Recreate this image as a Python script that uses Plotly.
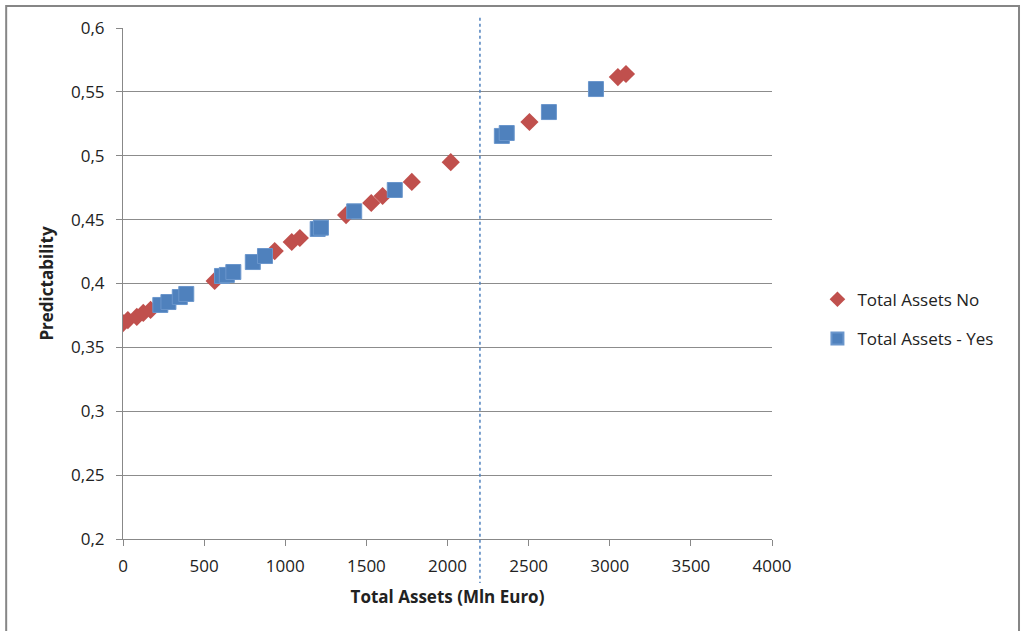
import plotly.graph_objects as go

# Total assets (Mln Euro) vs predictability, split by group
assets_no = [0, 30, 85, 125, 170, 565, 935, 1040, 1090, 1375, 1530, 1600, 1780, 2020, 2505, 3050, 3100]
pred_no = [0.369, 0.3714, 0.3738, 0.377, 0.3793, 0.402, 0.4254, 0.4325, 0.4356, 0.4536, 0.463, 0.4685, 0.4795, 0.495, 0.5264, 0.5616, 0.564]

assets_yes = [230, 280, 350, 390, 610, 640, 680, 800, 875, 1200, 1220, 1425, 1675, 2335, 2365, 2625, 2915]
pred_yes = [0.3832, 0.3855, 0.3894, 0.3918, 0.4059, 0.4067, 0.409, 0.4168, 0.4215, 0.4427, 0.4437, 0.4565, 0.4732, 0.5155, 0.5178, 0.5342, 0.5522]

x_ticks = [0, 500, 1000, 1500, 2000, 2500, 3000, 3500, 4000]
y_ticks = [0.2, 0.25, 0.3, 0.35, 0.4, 0.45, 0.5, 0.55, 0.6]
y_tick_text = ["0,2", "0,25", "0,3", "0,35", "0,4", "0,45", "0,5", "0,55", "0,6"]

threshold = 2200

font_family = "Open Sans, DejaVu Sans, sans-serif"

fig = go.Figure()
fig.add_trace(go.Scatter(
    x=assets_no, y=pred_no, mode="markers", name="Total Assets No",
    legendgroup="no",
    marker=dict(symbol="diamond", size=14, color="#C0504D",
                line=dict(width=0)),
))
fig.add_trace(go.Scatter(
    x=assets_yes, y=pred_yes, mode="markers", name="Total Assets - Yes",
    legendgroup="yes",
    marker=dict(symbol="square", size=15, color="#4F81BD",
                line=dict(width=1, color="#6a96cc")),
))

# Vertical dotted threshold line
fig.add_shape(type="line", xref="x", yref="paper",
              x0=threshold, x1=threshold, y0=1.02, y1=-0.086,
              line=dict(color="#4F81BD", width=1.5, dash="dot"))

# Outer chart frame
fig.add_shape(type="rect", xref="paper", yref="paper",
              x0=-0.180, x1=1.3806, y0=1.043, y1=-0.25,
              line=dict(color="#868686", width=2))

fig.update_layout(
    width=1021, height=631,
    margin=dict(l=123, r=249, t=28, b=92),
    plot_bgcolor="white", paper_bgcolor="white",
    font=dict(family=font_family, size=17, color="#222222"),
    showlegend=True,
    legend=dict(x=1.07, y=0.43, xanchor="left", yanchor="middle",
                traceorder="grouped", tracegroupgap=14,
                font=dict(size=17, color="#222222"),
                bgcolor="rgba(0,0,0,0)", itemsizing="constant"),
    xaxis=dict(
        range=[0, 4000], tickvals=x_ticks, ticktext=[str(v) for v in x_ticks],
        showgrid=False, zeroline=False,
        showline=True, linecolor="#888888", linewidth=1,
        ticks="outside", ticklen=6, tickcolor="#888888",
        ticklabelstandoff=6,
        tickfont=dict(size=17),
        title=dict(text="<b>Total Assets (Mln Euro)</b>", standoff=14,
                   font=dict(size=17)),
    ),
    yaxis=dict(
        range=[0.2, 0.6], tickvals=y_ticks, ticktext=y_tick_text,
        showgrid=True, gridcolor="#8c8c8c", gridwidth=1,
        zeroline=False,
        showline=True, linecolor="#888888", linewidth=1,
        ticks="outside", ticklen=6, tickcolor="#888888",
        ticklabelstandoff=8,
        tickfont=dict(size=17),
        title=dict(text="<b>Predictability</b>", standoff=13,
                   font=dict(size=17)),
    ),
)

fig.write_html("out.html")
